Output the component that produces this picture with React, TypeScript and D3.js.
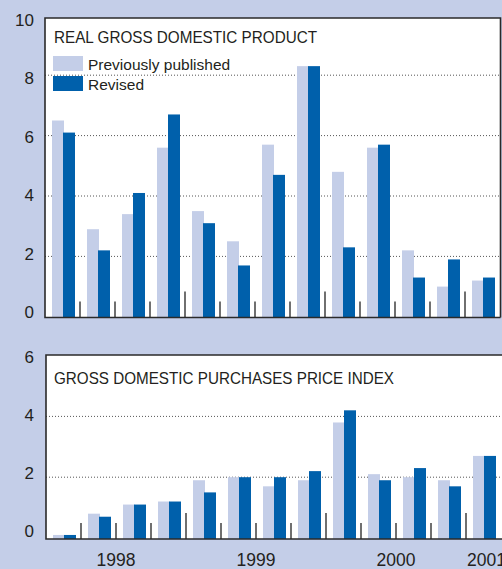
import * as d3 from 'd3'
import React, { useEffect, useRef } from 'react'

// quarters 1998Q1 .. 2001Q1
const quarters = ['1998Q1', '1998Q2', '1998Q3', '1998Q4', '1999Q1', '1999Q2', '1999Q3', '1999Q4',
    '2000Q1', '2000Q2', '2000Q3', '2000Q4', '2001Q1']
const years = ['1998', '1999', '2000', '2001']

// real GDP, percent change
const gdpPrev = [6.5, 2.9, 3.4, 5.6, 3.5, 2.5, 5.7, 8.3, 4.8, 5.6, 2.2, 1.0, 1.2]
const gdpRev = [6.1, 2.2, 4.1, 6.7, 3.1, 1.7, 4.7, 8.3, 2.3, 5.7, 1.3, 1.9, 1.3]

// gross domestic purchases price index, percent change
const priceIdxPrev = [0.1, 0.8, 1.1, 1.2, 1.9, 2.0, 1.7, 1.9, 3.8, 2.1, 2.0, 1.9, 2.7]
const priceIdxRev = [0.1, 0.7, 1.1, 1.2, 1.5, 2.0, 2.0, 2.2, 4.2, 1.9, 2.3, 1.7, 2.7]

const gdpTicks = [0, 2, 4, 6, 8, 10]
const priceTicks = [0, 2, 4, 6]

const BG = '#c4cee8'
const PALE = '#c4cee8'
const DARK = '#0060ab'
const INK = '#231f20'
const FONT = '"Liberation Sans", Arial, Helvetica, sans-serif'

const App = () => {
    const ref = useRef(null)

    useEffect(() => {
        document.body.style.margin = '0'
        const root = ref.current
        d3.select(root).select('svg').remove()

        const svg = d3.select(root)
            .append('svg')
            .attr('width', 502)
            .attr('height', 569)
            .style('display', 'block')
            .style('font-family', FONT)

        svg.append('rect').attr('width', 502).attr('height', 569).attr('fill', BG)

        // one panel
        function panel(opts) {
            const { left, right, top, bottom, yMax, zero, unit, labelZero, labelUnit,
                prev, rev, ticks, title, titleY, titleLen, legend } = opts

            const x = d3.scaleBand().domain(quarters).range([left, left + 35 * quarters.length])
            const y = d3.scaleLinear().domain([0, yMax]).range([zero, zero - unit * yMax])
            const yLab = d3.scaleLinear().domain([0, 1]).range([labelZero, labelZero - labelUnit])

            const g = svg.append('g')

            g.append('rect')
                .attr('x', left).attr('y', top)
                .attr('width', right - left).attr('height', bottom - top)
                .attr('fill', '#fff')

            // dotted grid
            g.selectAll('.grid')
                .data(ticks.filter(t => t > 0 && t < yMax))
                .enter()
                .append('line')
                .attr('x1', left).attr('x2', right)
                .attr('y1', d => y(d)).attr('y2', d => y(d))
                .attr('stroke', '#555')
                .attr('stroke-width', 1)
                .attr('stroke-dasharray', '1,2')

            // bars
            g.selectAll('.prev')
                .data(prev)
                .enter()
                .append('rect')
                .attr('x', (d, i) => x(quarters[i]) + 7)
                .attr('width', 12)
                .attr('y', d => y(d))
                .attr('height', d => bottom - y(d))
                .attr('fill', PALE)
            g.selectAll('.rev')
                .data(rev)
                .enter()
                .append('rect')
                .attr('x', (d, i) => x(quarters[i]) + 18)
                .attr('width', 12)
                .attr('y', d => y(d))
                .attr('height', d => bottom - y(d))
                .attr('fill', DARK)

            // quarter ticks, tall at year boundaries
            g.selectAll('.qtick')
                .data(quarters.slice(1))
                .enter()
                .append('line')
                .attr('x1', d => x(d)).attr('x2', d => x(d))
                .attr('y1', (d, i) => (i + 1) % 4 === 0 ? bottom - 26 : bottom - 16)
                .attr('y2', bottom)
                .attr('stroke', '#333')
                .attr('stroke-width', 1.4)

            // frame
            g.append('path')
                .attr('d', `M${right},${bottom}V${top}H${left}V${bottom}H${right}`)
                .attr('fill', 'none')
                .attr('stroke', '#2a2a2a')
                .attr('stroke-width', 1.6)

            // y labels
            g.selectAll('.ylab')
                .data(ticks)
                .enter()
                .append('text')
                .attr('x', 34)
                .attr('y', d => yLab(d))
                .attr('text-anchor', 'end')
                .attr('font-size', 17)
                .attr('fill', INK)
                .text(d => d)

            g.append('text')
                .attr('x', 54).attr('y', titleY)
                .attr('font-size', 17)
                .attr('fill', INK)
                .attr('textLength', titleLen)
                .attr('lengthAdjust', 'spacingAndGlyphs')
                .text(title)

            if (legend) {
                const items = [['Previously published', PALE], ['Revised', DARK]]
                items.forEach(([label, color], i) => {
                    g.append('rect')
                        .attr('x', 53).attr('y', 56 + i * 20)
                        .attr('width', 30).attr('height', 15)
                        .attr('fill', color)
                    g.append('text')
                        .attr('x', 88).attr('y', 70 + i * 19.5)
                        .attr('font-size', 15.5)
                        .attr('fill', INK)
                        .text(label)
                })
            }
            return x
        }

        panel({
            left: 45, right: 500.5, top: 18, bottom: 317.5, yMax: 10,
            zero: 316.8, unit: 30.2, labelZero: 318, labelUnit: 29.2,
            prev: gdpPrev, rev: gdpRev, ticks: gdpTicks,
            title: 'REAL GROSS DOMESTIC PRODUCT', titleY: 43, titleLen: 263, legend: true,
        })

        const x2 = panel({
            left: 46, right: 515, top: 355, bottom: 539, yMax: 6,
            zero: 538, unit: 30.4, labelZero: 537, labelUnit: 29,
            prev: priceIdxPrev, rev: priceIdxRev, ticks: priceTicks,
            title: 'GROSS DOMESTIC PURCHASES PRICE INDEX', titleY: 384, titleLen: 340, legend: false,
        })

        // year labels, centred on each year's quarters (last one kept inside the window)
        years.forEach((yr, i) => {
            const first = x2(quarters[i * 4])
            const last = quarters[Math.min(i * 4 + 3, quarters.length - 1)]
            const cx = (first + x2(last) + x2.bandwidth()) / 2
            const isLast = i * 4 + 3 >= quarters.length
            svg.append('text')
                .attr('x', isLast ? first + 1 : cx)
                .attr('y', 566)
                .attr('text-anchor', isLast ? 'start' : 'middle')
                .attr('font-size', 17.5)
                .attr('fill', INK)
                .text(yr)
        })
    }, [])

    return <div ref={ref} />
}

export default App
